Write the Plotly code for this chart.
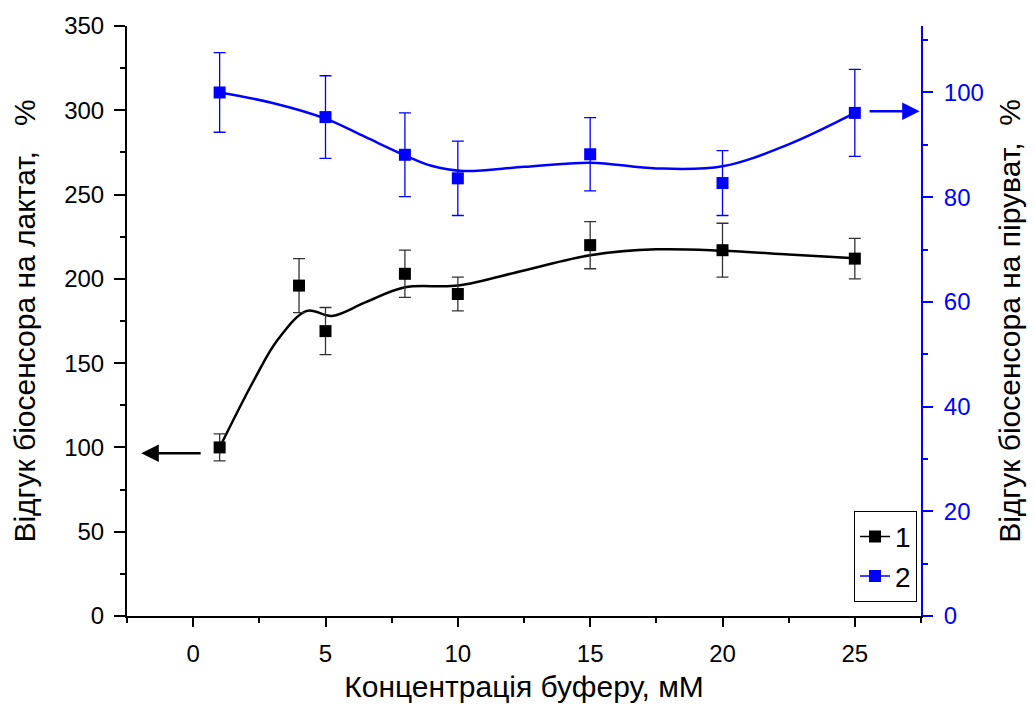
import plotly.graph_objects as go

# Buffer concentration, mM
conc_lactate = [1, 4, 5, 8, 10, 15, 20, 25]
conc_pyruvate = [1, 5, 8, 10, 15, 20, 25]

# Biosensor response to lactate, % (left axis) with error bars
resp_lactate = [100, 196, 169, 203, 191, 220, 217, 212]
err_lactate = [8, 16, 14, 14, 10, 14, 16, 12]

# Biosensor response to pyruvate, % (right axis) with error bars
resp_pyruvate = [100, 95.3, 88.1, 83.6, 88.2, 82.7, 96.1]
err_pyruvate = [7.6, 7.9, 8.0, 7.1, 7.0, 6.2, 8.3]

# Smoothed trend curves
trend_lactate_x = [1, 2.3, 3.2, 4.3, 5.25, 6.5, 8, 10, 12.5, 15, 17.5, 20, 22.5, 25]
trend_lactate_y = [100, 140, 164, 181, 178, 186, 195, 196, 205, 214, 217.5, 216.7, 214.5, 212.2]
trend_pyruvate_x = [1, 3, 5, 6.5, 8, 9, 10.2, 12.5, 15, 17.5, 20, 22.5, 25]
trend_pyruvate_y = [100, 98, 95, 91.5, 88, 86, 85, 85.8, 86.6, 85.5, 85.9, 90.1, 96.1]

BLUE = "#0000FF"
FONT = "Liberation Sans, Arial, sans-serif"

fig = go.Figure()

fig.add_trace(go.Scatter(
    x=trend_lactate_x, y=trend_lactate_y, mode="lines",
    line=dict(color="black", width=2.5, shape="spline", smoothing=1.0),
    showlegend=False, hoverinfo="skip", yaxis="y"))
fig.add_trace(go.Scatter(
    x=trend_pyruvate_x, y=trend_pyruvate_y, mode="lines",
    line=dict(color=BLUE, width=2.5, shape="spline", smoothing=1.0),
    showlegend=False, hoverinfo="skip", yaxis="y2"))

fig.add_trace(go.Scatter(
    x=conc_lactate, y=resp_lactate, mode="markers",
    marker=dict(symbol="square", size=12, color="black"),
    error_y=dict(type="data", array=err_lactate, color="#333333", thickness=1.3, width=6),
    showlegend=False, yaxis="y"))
fig.add_trace(go.Scatter(
    x=conc_pyruvate, y=resp_pyruvate, mode="markers",
    marker=dict(symbol="square", size=12, color=BLUE),
    error_y=dict(type="data", array=err_pyruvate, color=BLUE, thickness=1.3, width=6),
    showlegend=False, yaxis="y2"))

# Legend entries (line with marker)
fig.add_trace(go.Scatter(
    x=[None], y=[None], mode="lines+markers", name="1",
    line=dict(color="black", width=1.5),
    marker=dict(symbol="square", size=12, color="black"), yaxis="y"))
fig.add_trace(go.Scatter(
    x=[None], y=[None], mode="lines+markers", name="2",
    line=dict(color=BLUE, width=1.5),
    marker=dict(symbol="square", size=12, color=BLUE), yaxis="y2"))

tick_font = dict(family=FONT, size=24, color="black")
title_font = dict(family=FONT, size=30, color="black")

fig.update_layout(
    width=1035, height=711,
    margin=dict(l=127, r=114, t=26, b=95),
    paper_bgcolor="white", plot_bgcolor="white",
    font=dict(family=FONT, color="black"),
    xaxis=dict(
        range=[-2.5, 27.5], tickvals=[0, 5, 10, 15, 20, 25],
        ticks="outside", ticklen=9, tickwidth=2, tickcolor="black",
        showline=True, linecolor="black", linewidth=2,
        showgrid=False, zeroline=False, tickfont=tick_font, ticklabelstandoff=6,
        minor=dict(dtick=2.5, tick0=0, ticks="outside", ticklen=5, tickwidth=2, tickcolor="black"),
        title=dict(text="Концентрація буферу, мМ", font=title_font, standoff=10),
    ),
    xaxis2=dict(
        overlaying="x", side="top", range=[-2.5, 27.5], tickvals=[0, 5, 10, 15, 20, 25],
        ticks="inside", ticklen=11, tickwidth=2, tickcolor="black",
        showline=True, linecolor="black", linewidth=2, showticklabels=False,
        showgrid=False, zeroline=False,
        minor=dict(dtick=2.5, tick0=0, ticks="inside", ticklen=6, tickwidth=2, tickcolor="black"),
    ),
    yaxis=dict(
        range=[0, 350], dtick=50, tick0=0,
        ticks="outside", ticklen=11, tickwidth=2, tickcolor="black",
        showline=True, linecolor="black", linewidth=2,
        showgrid=False, zeroline=False, tickfont=tick_font, ticklabelstandoff=5,
        minor=dict(dtick=25, tick0=0, ticks="outside", ticklen=5, tickwidth=2, tickcolor="black"),
        title=dict(text="Відгук біосенсора на лактат,   %", font=title_font, standoff=20),
    ),
    yaxis2=dict(
        overlaying="y", side="right", range=[0, 112.7], dtick=20, tick0=0,
        ticks="outside", ticklen=10, tickwidth=2, tickcolor=BLUE,
        showline=True, linecolor=BLUE, linewidth=2,
        showgrid=False, zeroline=False, tickfont=dict(family=FONT, size=24, color=BLUE),
        ticklabelstandoff=6,
        minor=dict(dtick=10, tick0=0, ticks="outside", ticklen=5, tickwidth=2, tickcolor=BLUE),
        title=dict(text="Відгук біосенсора на піруват,  %", font=title_font, standoff=16),
    ),
    legend=dict(
        x=0.995, y=0.024, xanchor="right", yanchor="bottom",
        bordercolor="black", borderwidth=1, bgcolor="white",
        font=dict(family=FONT, size=28, color="black"),
        tracegroupgap=0, itemwidth=30,
    ),
    annotations=[
        dict(x=-1.96, y=96.5, ax=0.34, ay=96.5, xref="x", yref="y", axref="x", ayref="y",
             text="", showarrow=True, arrowhead=2, arrowsize=1.4, arrowwidth=2.5, arrowcolor="black"),
        dict(x=27.45, y=96.4, ax=25.5, ay=96.4, xref="x", yref="y2", axref="x", ayref="y2",
             text="", showarrow=True, arrowhead=2, arrowsize=1.4, arrowwidth=2.5, arrowcolor=BLUE),
    ],
)

fig.write_html("out.html")
